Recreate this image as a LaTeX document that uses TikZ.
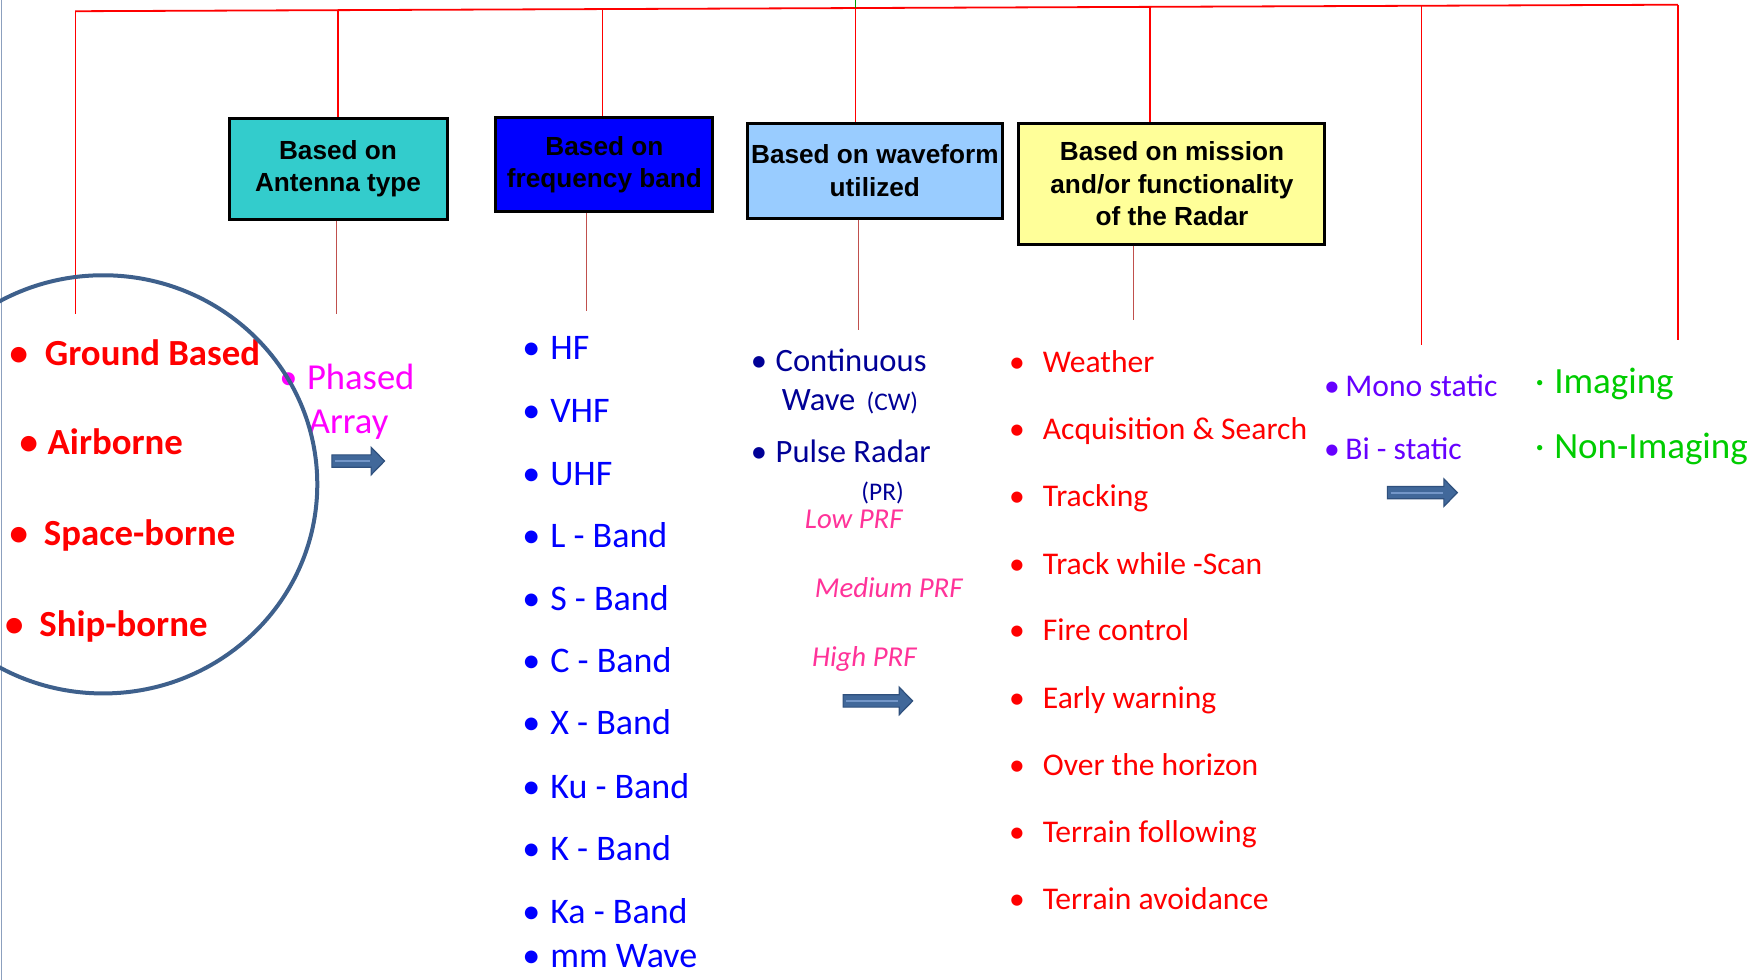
\documentclass[tikz,border=0pt]{standalone}
\usepackage{fontspec}
\setmainfont{Carlito}
\newfontfamily\boxfont{Liberation Sans}
\usepackage{tikz}
\usetikzlibrary{positioning}
\usetikzlibrary{shapes}

\definecolor{boxcyan}{RGB}{51,204,204}
\definecolor{boxblue}{RGB}{0,0,255}
\definecolor{boxsky}{RGB}{153,204,255}
\definecolor{boxyellow}{RGB}{255,255,153}
\definecolor{navyblue}{RGB}{0,0,150}
\definecolor{prfpink}{RGB}{255,51,153}
\definecolor{phasedpink}{RGB}{255,0,255}
\definecolor{staticviolet}{RGB}{102,0,255}
\definecolor{imggreen}{RGB}{0,204,0}
\definecolor{circleblue}{RGB}{62,96,140}
\definecolor{arrowfill}{RGB}{65,104,154}
\definecolor{arrowedge}{RGB}{47,80,125}
\definecolor{arrowlite}{RGB}{115,150,200}
\definecolor{branchred}{RGB}{192,80,77}
\definecolor{edgegrey}{RGB}{140,160,190}

\newlength\upx
\setlength\upx{0.5606pt}
% bullet centred #2 px left of the text start
\newcommand\bul[2][•]{\llap{\makebox[0pt]{#1}\hspace{#2\upx}}}
% fat block arrow: tail x, centre y, length
\newcommand\fatarrow[3]{%
  \filldraw[fill=arrowfill, draw=arrowedge, line width=0.6pt] (#1,#2-5.5) -- (#1+#3-12,#2-5.5) -- (#1+#3-12,#2-12.3) -- (#1+#3,#2) -- (#1+#3-12,#2+12.3) -- (#1+#3-12,#2+5.5) -- (#1,#2+5.5) -- cycle;
  \draw[arrowlite, line width=1pt] (#1+3,#2) -- (#1+#3-13,#2);
}

\begin{document}
\begin{tikzpicture}[x=0.5606pt, y=-0.5606pt,
    catbox/.style={draw=black, line width=1.5pt, align=center, inner sep=0pt,
        font=\boxfont\bfseries\fontsize{13.1}{16.2}\selectfont},
    trunk/.style={red, line width=0.9pt},
    twig/.style={red, line width=0.6pt},
    branch/.style={branchred, line width=0.5pt},
    item/.style={anchor=base west, inner sep=0pt},
    platform/.style={item, text=red, font=\bfseries\fontsize{18.4}{22}\selectfont},
    phased/.style={item, text=phasedpink, align=left, font=\fontsize{18.3}{22}\selectfont},
    band/.style={item, text=boxblue, font=\fontsize{18}{22}\selectfont},
    wave/.style={item, text=navyblue, font=\fontsize{16.3}{20}\selectfont},
    small wave/.style={item, text=navyblue, font=\fontsize{12.7}{15}\selectfont},
    prf/.style={item, text=prfpink, font=\itshape\fontsize{14.4}{17}\selectfont},
    role/.style={item, text=red, font=\fontsize{15.8}{19}\selectfont},
    static/.style={item, text=staticviolet, font=\fontsize{15.8}{19}\selectfont},
    imaging/.style={item, text=imggreen, font=\fontsize{18.5}{22}\selectfont}
    ]
    \useasboundingbox (0,0) rectangle (1568,874);
    \clip (0,0) rectangle (1568,874);
    \draw[edgegrey, line width=0.6pt] (1,0) -- (1,874);

    % category boxes
    \node[catbox, fill=boxcyan, minimum width=109pt, minimum height=50.5pt] (ant) at (301.5,150.5) {Based on\\Antenna type};
    \node[catbox, fill=boxblue, minimum width=108.5pt, minimum height=47pt] (freq) at (539.1,146.7) {Based on\\frequency band};
    \node[catbox, fill=boxsky, minimum width=127.5pt, minimum height=47.5pt] (wave) at (780.3,152.2) {Based on waveform\\utilized};
    \node[catbox, fill=boxyellow, minimum width=153pt, minimum height=60.3pt] (mission) at (1045.3,164) {Based on mission\\and/or functionality\\of the Radar};

    % red tree
    \coordinate (t0) at (67,10);
    \coordinate (t1) at (301.5,9.05);
    \coordinate (t2) at (537.6,8.1);
    \coordinate (t3) at (763,7.2);
    \coordinate (t4) at (1025.7,6.1);
    \coordinate (t5) at (1267.8,5.1);
    \coordinate (t6) at (1496.6,4.2);
    \coordinate (e0) at (67,280);
    \coordinate (e1) at (300.5,280);
    \coordinate (e2) at (523.5,277);
    \coordinate (e3) at (766,294);
    \coordinate (e4) at (1011,285);
    \coordinate (e5) at (1267.8,308);
    \coordinate (e6) at (1496.6,303);
    \draw[trunk] (t0) -- (t6);
    \draw[green!60!black, line width=0.4pt] (763,0) -- (t3);
    \draw[twig] (t0) -- (e0);
    \draw[trunk] (t1) -- (ant.north);
    \draw[twig] (t2) -- (t2 |- freq.north);
    \draw[twig] (t3) -- (t3 |- wave.north);
    \draw[trunk] (t4) -- (t4 |- mission.north);
    \draw[trunk] (t5) -- (e5);
    \draw[trunk] (t6) -- (e6);
    \draw[branch] (e1 |- ant.south) -- (e1);
    \draw[branch] (e2 |- freq.south) -- (e2);
    \draw[branch] (e3 |- wave.south) -- (e3);
    \draw[branch] (e4 |- mission.south) -- (e4);

    % platforms
    \node[platform] (gb) at (39.7,325.6) {\bul{23.3}Ground Based};
    \node[platform] (air) at (42.2,405.8) {\bul{16.8}Airborne};
    \node[platform] (space) at (38.9,486.7) {\bul{22.5}Space-borne};
    \node[platform] (ship) at (34.8,567.8) {\bul{22.5}Ship-borne};

    % antenna
    \node[phased] (pa) at (273.5,386.5) {\bul{16.5}Phased\\\hspace{1.7\upx}Array};
    \fatarrow{296}{411.2}{47}

    % frequency bands
    \node[band] (hf) at (490.5,320.5) {\bul{17}HF};
    \node[band] (vhf) at (490.5,377) {\bul{17}VHF};
    \node[band] (uhf) at (490.5,432.6) {\bul{17}UHF};
    \node[band] (lb) at (490.5,488.2) {\bul{17}L - Band};
    \node[band] (sb) at (490.5,544.7) {\bul{17}S - Band};
    \node[band] (cb) at (490.5,600) {\bul{17}C - Band};
    \node[band] (xb) at (490.5,655.5) {\bul{17}X - Band};
    \node[band] (kub) at (490.5,712) {\bul{17}Ku - Band};
    \node[band] (kb) at (490.5,767.6) {\bul{17}K - Band};
    \node[band] (kab) at (490.5,823.5) {\bul{17}Ka - Band};
    \node[band] (mmw) at (490.5,863) {\bul{17}mm Wave};

    % waveforms
    \node[wave] (cw) at (691.5,331.5) {\bul{15}Continuous};
    \node[wave] (cwb) at (697,365.7) {Wave\hspace{10\upx}{\fontsize{12.7}{15}\selectfont(CW)}};
    \node[wave] (pr) at (691.5,412.4) {\bul{15}Pulse Radar};
    \node[small wave] (prb) at (768,446) {(PR)};
    \node[prf] (lowprf) at (717.6,471.8) {Low PRF};
    \node[prf] (medprf) at (726.5,532.8) {Medium PRF};
    \node[prf] (highprf) at (724,594.6) {High PRF};
    \fatarrow{752}{625.2}{62}

    % missions
    \node[role] (wx) at (929.8,332.4) {\bul{23}Weather};
    \node[role] (acq) at (929.8,391.8) {\bul{23}Acquisition \& Search};
    \node[role] (trk) at (929.8,451.9) {\bul{23}Tracking};
    \node[role] (tws) at (929.8,512) {\bul{23}Track while -Scan};
    \node[role] (fc) at (929.8,571.4) {\bul{23}Fire control};
    \node[role] (ew) at (929.8,631.8) {\bul{23}Early warning};
    \node[role] (oth) at (929.8,691.7) {\bul{23}Over the horizon};
    \node[role] (tf) at (929.8,751.6) {\bul{23}Terrain following};
    \node[role] (ta) at (929.8,811.5) {\bul{23}Terrain avoidance};

    % geometry
    \node[static] (mono) at (1199.6,353.8) {\bul{12}Mono static};
    \node[static] (bi) at (1199.6,409.4) {\bul{12}Bi - static};
    \fatarrow{1237.4}{439.4}{62.4}

    % imaging
    \node[imaging] (img) at (1386,351.4) {\bul[·]{13}Imaging};
    \node[imaging] (nonimg) at (1386,408.8) {\bul[·]{13}Non-Imaging};

    % platform circle
    \draw[circleblue, line width=2pt] (92,432) ellipse [x radius=191, y radius=186.5];
\end{tikzpicture}
\end{document}
